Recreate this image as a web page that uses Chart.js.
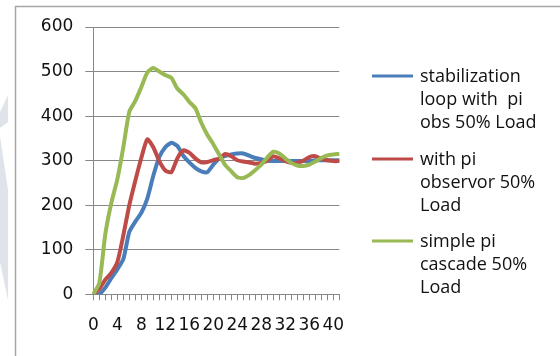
<!DOCTYPE html>
<html><head><meta charset="utf-8">
<script src="https://cdn.jsdelivr.net/npm/chart.js@4"></script>
<style>html,body{margin:0;padding:0;background:#fff;}canvas{display:block;}</style>
</head><body>
<canvas id="c" width="560" height="356"></canvas>
<script>
const categories = ['0','1','2','3','4','5','6','7','8','9','10','11','12','13','14','15','16','17','18','19','20',
  '21','22','23','24','25','26','27','28','29','30','31','32','33','34','35','36','37','38','39','40','41'];
const tickLabels = ['0','4','8','12','16','20','24','28','32','36','40'];
const yTicks = [0, 100, 200, 300, 400, 500, 600];
const seriesNames = [
  ['stabilization', 'loop with  pi', 'obs 50% Load'],
  ['with pi', 'observor 50%', 'Load'],
  ['simple pi', 'cascade 50%', 'Load']
];
const seriesColors = ['#4A7EBB', '#BE4B48', '#98B954'];
const stabilizationLoop = [0, 0, 15, 36, 56, 79, 140, 163, 183, 215, 266, 308, 330, 340, 333, 311, 296, 284, 276, 274, 291,
  305, 311, 314, 316, 316, 311, 306, 303, 300, 299, 299, 299, 299, 299, 299, 299, 301, 301, 301, 301, 301];
const withPiObservor = [0, 12, 33, 48, 72, 132, 200, 255, 306, 348, 330, 299, 278, 274, 305, 323, 318, 305, 296, 297, 301,
  305, 315, 310, 301, 298, 296, 293, 295, 300, 310, 305, 299, 295, 295, 300, 308, 310, 304, 301, 299, 299];
const simplePiCascade = [0, 25, 135, 205, 258, 330, 410, 434, 465, 498, 508, 500, 492, 486, 462, 449, 432, 418, 385, 358, 337,
  313, 290, 276, 263, 261, 268, 279, 291, 307, 320, 316, 305, 295, 289, 288, 291, 298, 306, 312, 314, 315];

const bgPlugin = {
  id: 'bg',
  beforeDraw(chart) {
    const ctx = chart.ctx;
    ctx.save();
    ctx.fillStyle = '#fff';
    ctx.fillRect(0, 0, chart.width, chart.height);
    ctx.fillStyle = '#dfe3ea';
    ctx.beginPath();
    ctx.moveTo(0, 112); ctx.lineTo(8, 95); ctx.lineTo(8, 122); ctx.lineTo(0, 128); ctx.closePath(); ctx.fill();
    ctx.beginPath();
    ctx.moveTo(0, 136); ctx.lineTo(8, 190); ctx.lineTo(8, 300); ctx.lineTo(0, 262); ctx.closePath(); ctx.fill();
    ctx.strokeStyle = '#a6a6a6';
    ctx.lineWidth = 1.5;
    ctx.beginPath();
    ctx.moveTo(15.5, 360); ctx.lineTo(15.5, 6.5); ctx.lineTo(560, 6.5);
    ctx.stroke();
    ctx.restore();
  }
};

const legendPlugin = {
  id: 'customLegend',
  afterDraw(chart) {
    const ctx = chart.ctx;
    ctx.save();
    ctx.font = '18px "Open Sans"';
    ctx.textBaseline = 'middle';
    ctx.textAlign = 'left';
    const groupY = [77, 160, 242];
    chart.data.datasets.forEach((ds, i) => {
      const y0 = groupY[i];
      ctx.strokeStyle = ds.borderColor;
      ctx.lineWidth = 3;
      ctx.beginPath();
      ctx.moveTo(372, y0 - 1); ctx.lineTo(413, y0 - 1);
      ctx.stroke();
      ctx.fillStyle = '#111';
      ds.label.forEach((line, k) => ctx.fillText(line, 420, y0 + k * 23));
    });
    ctx.restore();
  }
};

const datasets = [stabilizationLoop, withPiObservor, simplePiCascade].map((vals, i) => ({
  label: seriesNames[i],
  data: vals,
  borderColor: seriesColors[i],
  backgroundColor: seriesColors[i],
  borderWidth: 4,
  pointRadius: 0,
  tension: 0.2,
  fill: false,
  order: 3 - i
}));

new Chart(document.getElementById('c'), {
  type: 'line',
  data: { labels: categories, datasets },
  options: {
    responsive: false,
    devicePixelRatio: 1,
    animation: false,
    events: [],
    layout: { padding: { left: 0, top: 27, right: 220.7, bottom: 0 } },
    plugins: { legend: { display: false }, tooltip: { enabled: false } },
    scales: {
      x: {
        type: 'category',
        offset: false,
        afterFit(scale) { scale.height = 61.7; },
        grid: { display: true, drawOnChartArea: false, drawTicks: true, tickLength: 6, color: '#888', lineWidth: 1 },
        border: { display: true, color: '#888', width: 1 },
        ticks: {
          autoSkip: false, maxRotation: 0, minRotation: 0, padding: 15,
          color: '#111', font: { family: 'DejaVu Sans', size: 17 },
          callback(v, i) { const l = categories[i]; return tickLabels.includes(l) ? l : ''; }
        }
      },
      y: {
        min: 0, max: 600,
        afterFit(scale) { scale.width = 93.3; },
        afterBuildTicks(scale) { scale.ticks = yTicks.map(v => ({ value: v })); },
        grid: { color: '#888', lineWidth: 1, drawTicks: true, tickLength: 8 },
        border: { display: true, color: '#888', width: 1 },
        ticks: { padding: 12, color: '#111', font: { family: 'DejaVu Sans', size: 17 } }
      }
    }
  },
  plugins: [bgPlugin, legendPlugin]
});
</script>
</body></html>
